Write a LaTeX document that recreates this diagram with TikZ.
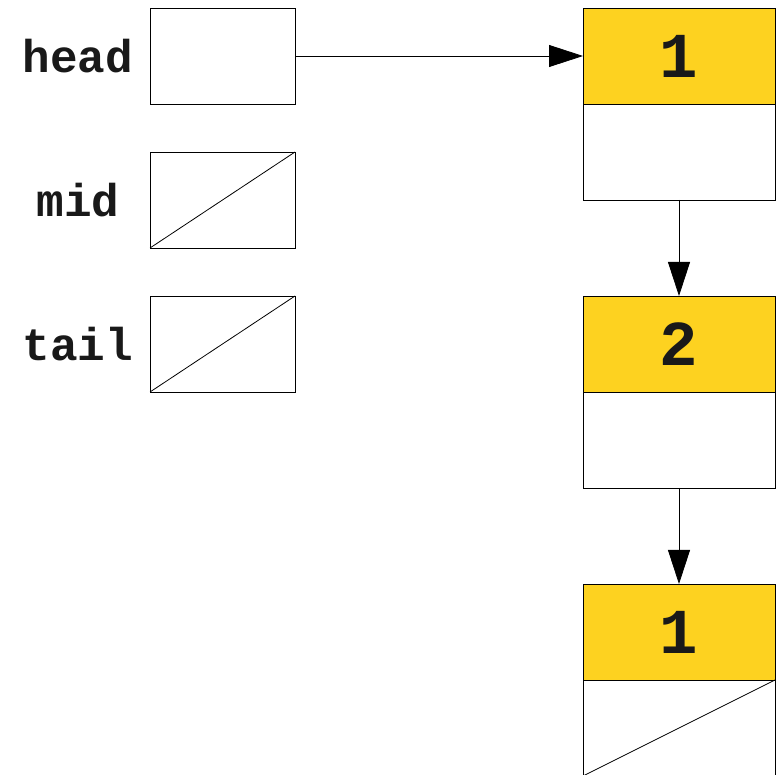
\documentclass[tikz,border=0pt]{standalone}
\usepackage{fontspec}
\setmonofont{Liberation Mono}
\usetikzlibrary{arrows.meta}
\definecolor{nodeyellow}{RGB}{253,210,32}
\tikzset{
 ptrbox/.style={draw=black,line width=0.8pt,fill=white,minimum width=145pt,minimum height=96pt,inner sep=0pt,outer sep=0pt,anchor=north west},
 valbox/.style={draw=black,line width=0.8pt,fill=nodeyellow,minimum width=192pt,minimum height=96pt,inner sep=0pt,outer sep=0pt,anchor=north west,font=\ttfamily\bfseries\fontsize{64}{64}\selectfont,text=black!90},
 nxtbox/.style={draw=black,line width=0.8pt,fill=white,minimum width=192pt,minimum height=96pt,inner sep=0pt,outer sep=0pt,anchor=north west},
 lab/.style={font=\ttfamily\bfseries\fontsize{46}{46}\selectfont,text=black!90,inner sep=0pt},
 arr/.style={-{Triangle[length=34pt,width=22pt]},line width=0.8pt}
}
\begin{document}
\begin{tikzpicture}[x=1pt,y=-1pt]
\useasboundingbox (0,0) rectangle (780,775);
\fill[white] (0,0) rectangle (780,775);
\node[ptrbox] (head) at (150,8) {};
\node[ptrbox] (mid) at (150,152) {};
\node[ptrbox] (tail) at (150,296) {};
\draw[line width=0.8pt] (mid.south west) -- (mid.north east);
\draw[line width=0.8pt] (tail.south west) -- (tail.north east);
\node[lab] (lhead) at (78,56) {head};
\node[lab] (lmid) at (78,200) {mid};
\node[lab] (ltail) at (78,344) {tail};
\node[valbox] (v1) at (583,8) {1};
\node[nxtbox] (n1) at (583,104) {};
\node[valbox] (v2) at (583,296) {2};
\node[nxtbox] (n2) at (583,392) {};
\node[valbox] (v3) at (583,584) {1};
\node[nxtbox] (n3) at (583,680) {};
\draw[line width=0.8pt] (n3.south west) -- (n3.north east);
\draw[arr] (head.east) -- (v1.west);
\draw[arr] (n1.south) -- (v2.north);
\draw[arr] (n2.south) -- (v3.north);
\end{tikzpicture}
\end{document}
